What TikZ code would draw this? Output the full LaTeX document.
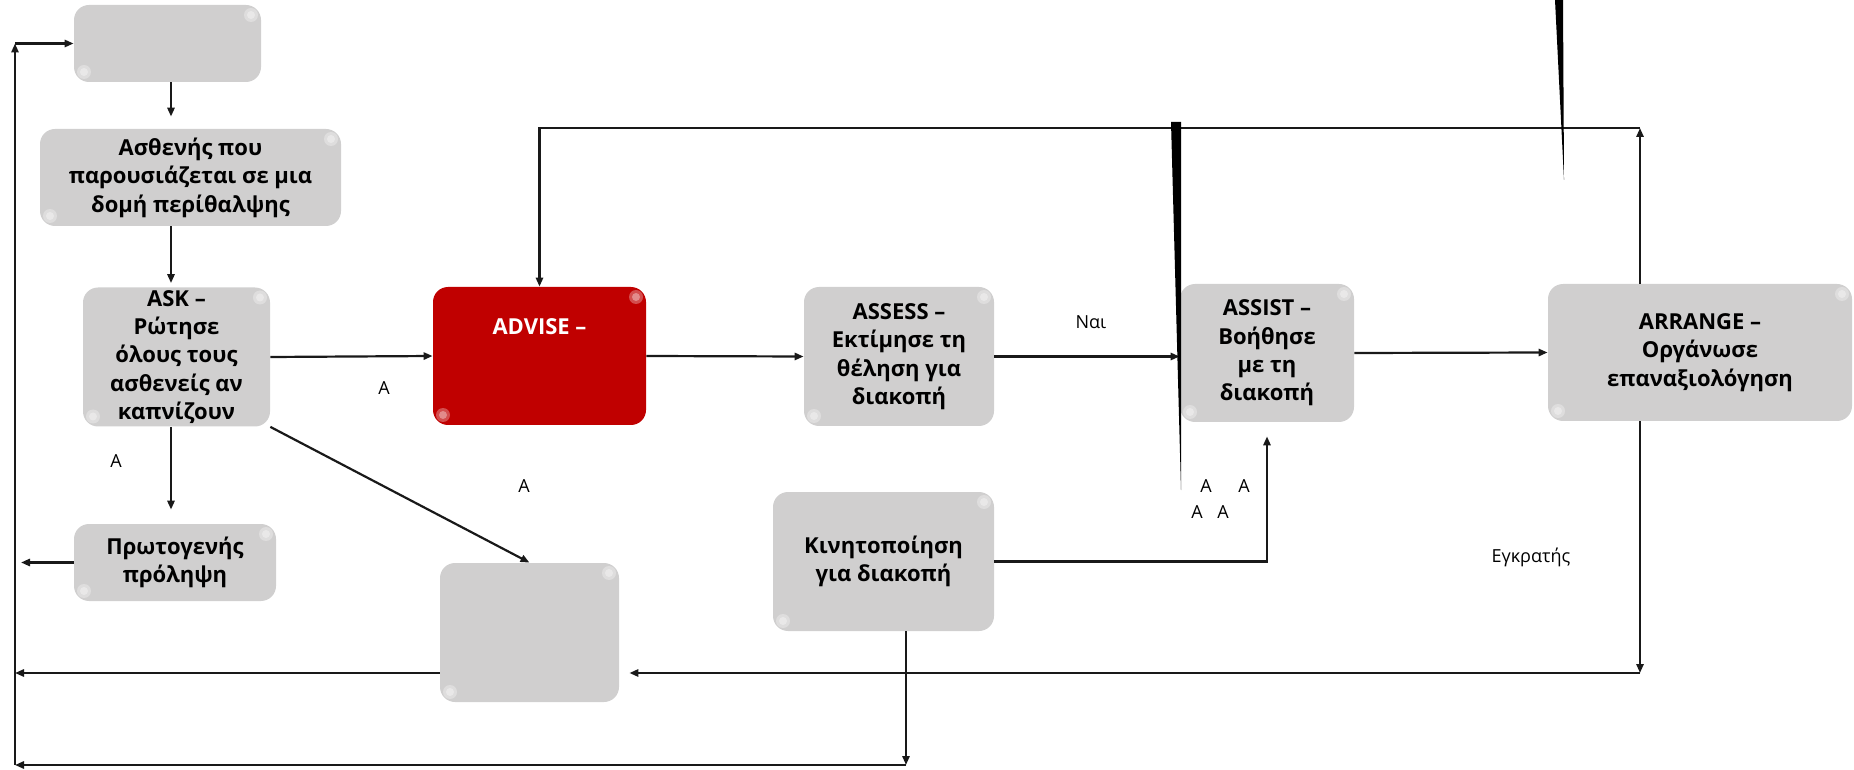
\documentclass[tikz,border=0pt]{standalone}
\usepackage{fontspec}
\setmainfont{Open Sans}
\usepackage{tikz}
\usetikzlibrary{arrows.meta}
\definecolor{boxgray}{RGB}{208,207,207}
\definecolor{advred}{RGB}{192,0,0}

\begin{document}
\begin{tikzpicture}[x=0.5pt, y=-0.5pt,
            box/.style = {shape=rectangle, rounded corners=7.5pt,
                          fill=boxgray, align=center, inner sep=0pt,
                          font=\bfseries\fontsize{11}{14.2}\selectfont,
                          path picture={
                            \fill[white, opacity=.3] ([shift={(-5pt,-5pt)}]path picture bounding box.north east) circle (3.5pt);
                            \fill[white, opacity=.35] ([shift={(-5pt,-5pt)}]path picture bounding box.north east) circle (2pt);
                            \fill[white, opacity=.3] ([shift={(5pt,5pt)}]path picture bounding box.south west) circle (3.5pt);
                            \fill[white, opacity=.35] ([shift={(5pt,5pt)}]path picture bounding box.south west) circle (2pt);}},
            redbox/.style = {box, fill=advred, text=white},
            arr/.style = {-{Triangle[length=4.5pt,width=3.6pt]}, line width=1.1pt, draw=black!90},
            lbl/.style = {font=\fontsize{9}{11}\selectfont, inner sep=0pt}]
    \useasboundingbox (0,0) rectangle (1854,770);

    \node[box, minimum width=93.5pt, minimum height=38.5pt] (top) at (167.5,43.5) {};
    \node[box, minimum width=150.5pt, minimum height=48.5pt] (patient) at (190.5,177.5) {Ασθενής που\\παρουσιάζεται σε μια\\δομή περίθαλψης};
    \node[box, minimum width=93.5pt, minimum height=69.5pt] (ask) at (176.5,357) {ASK –\\Ρώτησε\\όλους τους\\ασθενείς αν\\καπνίζουν};
    \node[redbox, minimum width=106.5pt, minimum height=69pt] (advise) at (539.5,356) {\raisebox{10.5pt}[0pt][0pt]{ADVISE –}};
    \node[box, minimum width=95pt, minimum height=69.5pt] (assess) at (899,356.5) {ASSESS –\\Εκτίμησε τη\\θέληση για\\διακοπή};
    \node[box, minimum width=87pt, minimum height=69pt] (assist) at (1267,353) {ASSIST –\\Βοήθησε\\με τη\\διακοπή};
    \node[box, minimum width=152pt, minimum height=68.5pt] (arrange) at (1700,352.5) {ARRANGE –\\Οργάνωσε\\επαναξιολόγηση};
    \node[box, minimum width=101pt, minimum height=38.5pt] (primary) at (175,562.5) {Πρωτογενής\\πρόληψη};
    \node[box, minimum width=89.5pt, minimum height=69.5pt] (blank) at (529.5,632.5) {};
    \node[box, minimum width=110.5pt, minimum height=69.5pt] (motiv) at (883.5,561.5) {Κινητοποίηση\\για διακοπή};

    \coordinate (spine) at (171,0);
    \coordinate (ne) at (1640,128);
    \coordinate (se) at (1640,673);
    \coordinate (wl) at (15,0);
    \coordinate (mb) at (906,765);

    \draw[arr, shorten >=6pt] (spine |- top.south) -- (spine |- patient.north);
    \draw[arr, shorten >=2pt] (spine |- patient.south) -- (spine |- ask.north);
    \draw[arr, shorten >=7pt] (spine |- ask.south) -- (spine |- primary.north);
    \draw[arr] (ask.east) -- (advise.west);
    \draw[arr] (advise.east) -- (assess.west);
    \draw[arr] (assess.east) -- (assess.east -| assist.west);
    \draw[arr] (assist.east) -- (arrange.west);
    \draw[arr] (ne |- arrange.north) -- (ne);
    \draw[arr] (ne) -- (advise.north |- ne) -- (advise.north);
    \draw[arr] (ask.south east) -- (blank.north);
    \draw[arr, shorten >=3pt] (primary.west) -- (primary.west -| wl);
    \draw[arr] (blank.west |- se) -- (wl |- se);
    \draw[arr] (se |- arrange.south) -- (se);
    \draw[arr, shorten >=5pt] (se) -- (blank.east |- se);
    \draw[arr, shorten >=7pt] (motiv.east) -| (assist.south);
    \draw[arr] (mb |- motiv.south) -- (mb);
    \draw[arr] (mb) -- (wl |- mb);
    \draw[arr] (wl |- mb) -- (wl |- top.west);
    \draw[arr] (wl |- top.west) -- (top.west);

    \fill (1171,122) -- (1181,122) -- (1181,490) -- cycle;
    \fill (1555,0) -- (1563,0) -- (1564,180) -- cycle;

    \node[lbl] (a1) at (384,388) {A};
    \node[lbl] (a2) at (116,461) {A};
    \node[lbl] (a3) at (524,486) {A};
    \node[lbl] (yes) at (1091,322) {Ναι};
    \node[lbl] (a4) at (1206,486) {A};
    \node[lbl] (a5) at (1244,486) {A};
    \node[lbl] (a6) at (1197,512) {A};
    \node[lbl] (a7) at (1223,512) {A};
    \node[lbl] (hold) at (1531,557) {Εγκρατής};
\end{tikzpicture}
\end{document}
